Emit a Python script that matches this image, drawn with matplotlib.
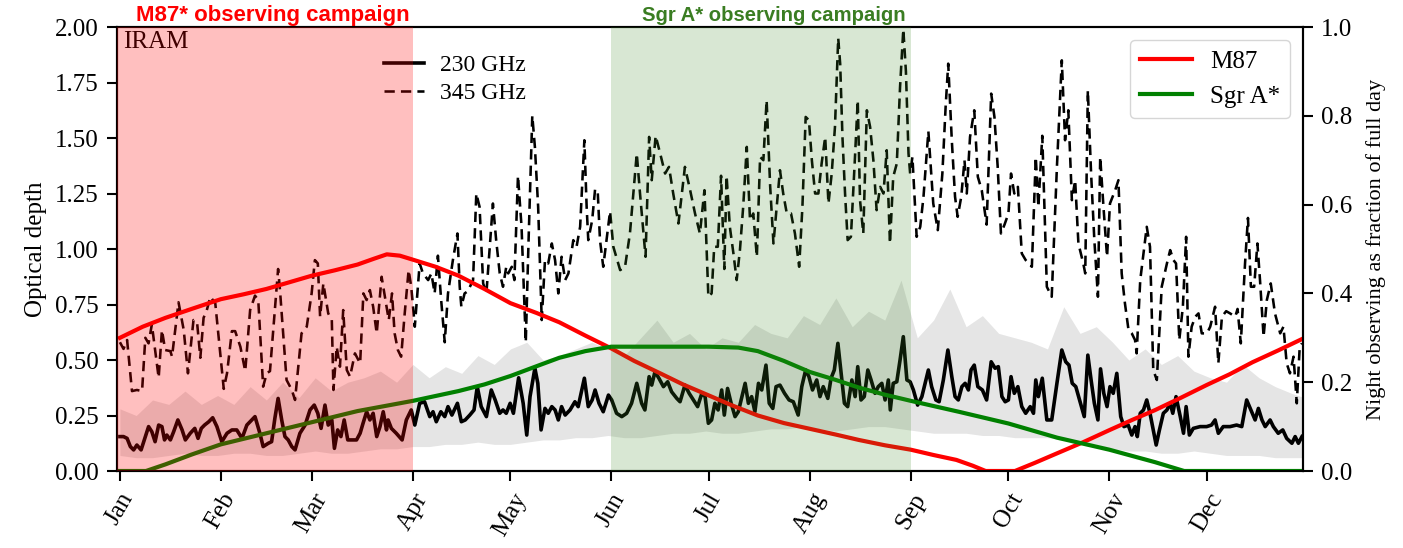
import matplotlib
matplotlib.use("Agg")
import matplotlib.pyplot as plt
from matplotlib.lines import Line2D

# ---------------- data (day of year, Jan 1 = 0) ----------------
month_days = [0, 31, 59, 90, 120, 151, 181, 212, 243, 273, 304, 334]
month_labels = ["Jan", "Feb", "Mar", "Apr", "May", "Jun", "Jul", "Aug", "Sep", "Oct", "Nov", "Dec"]

tau230_day = [0, 1.1, 2.2, 3.2, 4.2, 5.2, 6.5, 7.8, 8.8, 9.8, 10.8, 11.9, 12.9, 13.7, 14.4, 15.5, 16.5, 17.8, 19.1, 20.1,
              21.6, 23.0, 24.0, 25.0, 26.0, 27.3, 28.5, 29.8, 31.3, 32.9, 34.4, 35.9, 37.5, 39.0, 40.0, 41.5, 43.0, 44.0,
              45.6, 46.6, 47.6, 48.6, 49.7, 50.7, 51.7, 52.8, 53.8, 55.3, 56.9, 58.4, 59.7, 60.8, 61.8, 63.0, 64.0, 65.1,
              65.9, 66.9, 67.9, 68.9, 70.0, 71.2, 72.7, 73.8, 74.7, 75.8, 76.8, 77.8, 78.9, 79.9, 80.9, 81.9, 82.4, 83.4,
              84.9, 86.7, 88.0, 89.5, 90.6, 92.1, 93.6, 95.2, 96.2, 97.2, 98.6, 99.8, 100.8, 102.0, 103.7, 104.9, 106.1,
              107.5, 108.8, 109.8, 111.0, 112.6, 114.1, 115.3, 116.7, 117.7, 118.7, 119.9, 120.9, 122.5, 123.9, 125.0,
              126.0, 127.5, 128.4, 129.4, 130.6, 131.6, 132.7, 133.7, 134.7, 135.7, 136.8, 138.3, 139.8, 140.8, 142.7,
              143.9, 145.1, 146.0, 147.2, 148.5, 150.1, 151.1, 152.6, 154.2, 155.7, 157.2, 158.8, 160.3, 161.3, 162.6,
              163.4, 164.4, 165.6, 167.0, 168.3, 169.5, 171.1, 172.1, 173.6, 174.9, 176.2, 177.5, 178.8, 179.8, 180.8,
              181.8, 182.8, 183.8, 184.9, 185.7, 186.7, 187.8, 189.0, 190.0, 191.1, 192.1, 193.1, 194.1, 195.1, 196.2,
              197.2, 198.5, 199.5, 200.6, 201.6, 202.8, 204.2, 205.6, 206.9, 208.4, 209.5, 210.7, 211.7, 212.8, 214.1,
              215.1, 216.1, 217.5, 218.5, 219.5, 220.6, 221.6, 222.6, 223.6, 224.9, 225.9, 226.7, 227.7, 228.7, 229.8,
              230.8, 232.0, 233.0, 234.1, 235.1, 236.1, 236.7, 237.6, 238.7, 239.7, 240.7, 241.8, 242.8, 243.8, 245.1,
              246.4, 248.4, 249.4, 250.7, 251.7, 253.0, 254.4, 255.6, 256.6, 257.6, 258.7, 259.7, 260.7, 261.5, 262.5,
              263.6, 265.0, 266.3, 267.7, 268.9, 269.9, 271.0, 272.0, 273.0, 273.8, 274.8, 275.9, 277.1, 278.3, 279.7,
              280.7, 281.4, 282.2, 283.4, 284.8, 286.3, 287.9, 289.4, 290.6, 291.6, 292.6, 293.7, 295.0, 296.3, 297.4,
              298.4, 299.4, 300.5, 301.3, 302.3, 303.3, 304.2, 305.2, 306.3, 307.5, 308.5, 309.8, 310.9, 311.9, 312.6,
              313.5, 314.5, 315.5, 316.5, 317.5, 318.4, 319.4, 320.6, 321.7, 322.7, 323.5, 324.5, 325.8, 326.8, 327.6,
              328.6, 329.8, 331.9, 333.9, 335.4, 336.5, 337.5, 339.0, 341.1, 343.1, 344.7, 346.2, 347.5, 348.8, 349.8,
              350.9, 351.9, 353.4, 354.4, 355.9, 357.3, 358.5, 360.1, 361.1, 362.1, 363.2]
tau230 = [0.155, 0.155, 0.147, 0.11, 0.095, 0.117, 0.095, 0.155, 0.20, 0.177, 0.132, 0.207, 0.20, 0.14, 0.162, 0.14, 0.177,
          0.23, 0.185, 0.14, 0.17, 0.192, 0.147, 0.192, 0.207, 0.222, 0.24, 0.20, 0.132, 0.17, 0.185, 0.185, 0.147, 0.207,
          0.222, 0.245, 0.17, 0.11, 0.125, 0.132, 0.237, 0.327, 0.23, 0.155, 0.14, 0.11, 0.095, 0.17, 0.207, 0.275, 0.297,
          0.26, 0.192, 0.297, 0.207, 0.23, 0.102, 0.185, 0.155, 0.23, 0.14, 0.14, 0.14, 0.17, 0.215, 0.267, 0.23, 0.26,
          0.155, 0.20, 0.267, 0.185, 0.23, 0.192, 0.17, 0.14, 0.23, 0.275, 0.207, 0.305, 0.312, 0.245, 0.267, 0.222,
          0.267, 0.245, 0.29, 0.252, 0.305, 0.222, 0.23, 0.252, 0.275, 0.38, 0.29, 0.245, 0.365, 0.32, 0.26, 0.275, 0.26,
          0.305, 0.26, 0.42, 0.305, 0.162, 0.335, 0.463, 0.395, 0.185, 0.282, 0.26, 0.29, 0.275, 0.23, 0.29, 0.252, 0.275,
          0.312, 0.29, 0.418, 0.29, 0.32, 0.365, 0.305, 0.267, 0.342, 0.32, 0.26, 0.245, 0.26, 0.305, 0.395, 0.305, 0.275,
          0.425, 0.387, 0.447, 0.418, 0.38, 0.402, 0.357, 0.327, 0.312, 0.387, 0.35, 0.32, 0.29, 0.35, 0.335, 0.215, 0.23,
          0.305, 0.275, 0.365, 0.252, 0.372, 0.305, 0.245, 0.267, 0.335, 0.395, 0.305, 0.335, 0.267, 0.395, 0.365, 0.477,
          0.305, 0.282, 0.38, 0.387, 0.35, 0.32, 0.312, 0.252, 0.38, 0.455, 0.425, 0.365, 0.41, 0.335, 0.38, 0.327, 0.418,
          0.455, 0.575, 0.44, 0.305, 0.29, 0.41, 0.335, 0.47, 0.32, 0.335, 0.455, 0.41, 0.35, 0.38, 0.395, 0.32, 0.41,
          0.275, 0.395, 0.402, 0.50, 0.605, 0.41, 0.402, 0.365, 0.297, 0.335, 0.455, 0.38, 0.32, 0.312, 0.41, 0.545, 0.425,
          0.335, 0.32, 0.38, 0.395, 0.365, 0.455, 0.477, 0.38, 0.365, 0.32, 0.492, 0.463, 0.47, 0.335, 0.312, 0.32, 0.425,
          0.35, 0.38, 0.29, 0.26, 0.29, 0.26, 0.41, 0.335, 0.418, 0.23, 0.23, 0.395, 0.545, 0.492, 0.477, 0.395, 0.38,
          0.312, 0.245, 0.522, 0.41, 0.305, 0.23, 0.46, 0.35, 0.29, 0.38, 0.35, 0.44, 0.245, 0.20, 0.207, 0.162, 0.20,
          0.155, 0.26, 0.275, 0.32, 0.26, 0.185, 0.117, 0.185, 0.26, 0.275, 0.305, 0.26, 0.335, 0.245, 0.17, 0.29, 0.162,
          0.192, 0.20, 0.20, 0.207, 0.23, 0.17, 0.20, 0.20, 0.207, 0.20, 0.32, 0.275, 0.23, 0.282, 0.23, 0.20, 0.23, 0.20,
          0.17, 0.185, 0.147, 0.125, 0.155, 0.125, 0.155]

tau345_day = [0, 1.1, 2.2, 3.7, 5.2, 6.8, 7.8, 8.8, 9.8, 11.9, 12.9, 13.9, 15.5, 16.0, 18.0, 19.6, 20.9, 22.6, 23.7, 24.7,
              25.7, 26.7, 27.8, 29.3, 31.9, 32.9, 34.4, 35.4, 37.0, 38.5, 40.0, 41.5, 42.5, 44.0, 45.1, 46.1, 48.6, 49.2,
              51.2, 52.8, 53.8, 55.8, 57.4, 58.9, 59.9, 60.8, 61.5, 62.5, 63.0, 64.0, 65.1, 65.6, 66.6, 67.6, 68.6, 69.7,
              70.7, 72.2, 73.8, 74.8, 75.8, 76.8, 77.8, 78.9, 80.4, 81.9, 82.6, 83.6, 84.4, 85.4, 86.4, 87.5, 88.7, 89.5,
              90.6, 92.1, 93.1, 94.7, 95.7, 96.7, 97.7, 98.7, 99.8, 100.8, 102.3, 103.7, 104.4, 104.9, 105.9, 106.9,
              108.5, 109.5, 110.5, 111.6, 112.6, 114.6, 115.6, 116.7, 117.7, 118.7, 119.3, 120.4, 121.2, 122.3, 123.4,
              124.7, 125.5, 126.7, 127.5, 128.5, 129.6, 130.6, 131.6, 132.7, 133.7, 134.7, 135.7, 136.8, 137.8, 139.3,
              140.3, 141.4, 142.7, 143.4, 143.9, 145.1, 146.0, 146.8, 147.5, 148.5, 149.5, 150.6, 151.6, 153.7, 155.2,
              156.7, 158.8, 159.8, 161.5, 162.6, 163.4, 164.6, 166.0, 167.5, 168.7, 170.0, 171.6, 173.6, 175.2, 176.7,
              178.2, 179.6, 180.8, 181.8, 182.6, 183.7, 184.7, 185.7, 186.4, 187.4, 188.5, 189.5, 190.5, 191.5, 192.6,
              193.6, 194.6, 195.7, 196.7, 197.7, 198.7, 199.8, 200.8, 201.8, 202.8, 203.8, 204.9, 206.2, 207.4, 208.7,
              209.7, 210.7, 211.7, 212.6, 213.6, 214.6, 215.6, 216.7, 217.7, 218.7, 219.7, 220.7, 221.3, 222.0, 222.8,
              223.6, 224.6, 225.7, 226.7, 227.4, 228.4, 229.5, 230.5, 231.5, 232.5, 233.6, 234.6, 235.6, 236.6, 237.6,
              238.7, 239.7, 240.7, 241.5, 242.3, 242.8, 243.5, 244.8, 245.9, 246.9, 248.4, 249.9, 251.3, 252.7, 253.7,
              254.5, 255.6, 256.6, 257.4, 258.5, 259.5, 260.2, 261.2, 262.5, 263.6, 264.8, 266.3, 267.7, 268.7, 269.7,
              270.7, 271.8, 273.0, 273.8, 274.8, 275.9, 277.1, 278.3, 280.2, 281.4, 282.2, 283.4, 284.8, 286.3, 287.9,
              289.4, 290.4, 291.4, 292.5, 293.5, 294.5, 296.0, 296.6, 297.4, 298.4, 299.4, 300.5, 301.2, 302.2, 303.3,
              304.2, 305.8, 306.8, 307.8, 308.8, 309.9, 310.9, 311.9, 312.4, 313.5, 315.5, 316.5, 317.5, 318.6, 320.1,
              321.7, 322.7, 323.7, 324.5, 325.5, 326.6, 327.6, 328.3, 329.3, 330.4, 331.4, 332.4, 334.0, 335.0, 336.5,
              337.5, 338.6, 339.9, 341.1, 342.7, 343.4, 344.4, 345.7, 346.6, 347.5, 348.5, 349.5, 350.3, 351.4, 352.4,
              353.6, 354.9, 356.5, 357.5, 358.5, 359.5, 360.6, 361.6, 362.5, 363.2]
tau345 = [0.58, 0.55, 0.59, 0.36, 0.365, 0.36, 0.60, 0.575, 0.66, 0.42, 0.635, 0.545, 0.54, 0.515, 0.76, 0.635, 0.44, 0.68,
          0.67, 0.51, 0.69, 0.725, 0.785, 0.755, 0.37, 0.44, 0.63, 0.63, 0.56, 0.45, 0.725, 0.79, 0.77, 0.38, 0.44, 0.45,
          0.91, 0.81, 0.41, 0.365, 0.32, 0.62, 0.65, 0.80, 0.95, 0.935, 0.695, 0.845, 0.80, 0.71, 0.68, 0.365, 0.56, 0.47,
          0.725, 0.455, 0.425, 0.53, 0.485, 0.80, 0.77, 0.815, 0.74, 0.62, 0.875, 0.74, 0.68, 0.80, 0.62, 0.545, 0.515,
          0.71, 0.905, 0.83, 0.65, 0.935, 0.89, 0.86, 0.89, 0.80, 0.97, 0.77, 0.58, 0.80, 0.95, 1.07, 0.83, 0.74, 0.80,
          0.81, 0.86, 1.25, 1.19, 0.845, 0.80, 1.205, 1.04, 0.89, 0.83, 0.92, 0.89, 0.92, 0.86, 1.33, 1.10, 0.58, 1.01,
          1.60, 1.46, 1.19, 0.68, 0.95, 0.935, 1.025, 0.95, 0.80, 0.965, 0.86, 0.89, 1.04, 1.01, 1.10, 1.49, 1.19, 1.04,
          1.13, 1.27, 1.26, 1.04, 0.92, 1.04, 1.17, 1.01, 0.905, 0.92, 1.07, 1.43, 1.25, 0.965, 1.505, 1.31, 1.51, 1.43,
          1.34, 1.37, 1.25, 1.115, 1.37, 1.265, 1.16, 1.07, 1.265, 0.785, 0.80, 1.01, 1.01, 1.33, 0.91, 1.33, 1.10, 0.98,
          0.86, 0.995, 1.19, 1.46, 1.13, 1.16, 0.965, 1.415, 1.40, 1.67, 1.28, 1.025, 1.19, 1.355, 1.25, 1.16, 1.16, 1.07,
          0.92, 1.19, 1.595, 1.58, 1.40, 1.25, 1.25, 1.385, 1.505, 1.205, 1.34, 1.55, 1.95, 1.835, 1.505, 1.25, 1.04,
          1.055, 1.37, 1.67, 1.22, 1.07, 1.625, 1.55, 1.40, 1.175, 1.28, 1.25, 1.445, 1.025, 1.325, 1.385, 1.73, 1.99,
          1.80, 1.43, 1.34, 1.415, 1.055, 1.10, 1.235, 1.53, 1.205, 1.085, 1.34, 1.64, 1.835, 1.49, 1.235, 1.145, 1.235,
          1.40, 1.25, 1.505, 1.625, 1.325, 1.265, 1.11, 1.70, 1.595, 1.37, 1.07, 1.11, 1.16, 1.34, 1.25, 1.28, 0.98, 0.95,
          0.92, 1.415, 1.19, 1.51, 0.83, 0.785, 1.37, 1.85, 1.49, 1.625, 1.22, 1.31, 1.025, 0.935, 0.89, 1.715, 1.34, 1.04,
          0.785, 1.415, 1.19, 0.965, 1.205, 1.265, 1.31, 0.89, 0.755, 0.635, 0.62, 0.59, 0.53, 0.86, 1.10, 1.01, 0.455,
          0.41, 0.83, 0.935, 0.995, 0.95, 0.935, 0.59, 0.74, 1.055, 0.515, 0.65, 0.695, 0.71, 0.62, 0.62, 0.65, 0.74,
          0.485, 0.695, 0.72, 0.71, 0.695, 0.73, 0.575, 0.935, 1.14, 0.83, 0.83, 1.025, 0.86, 0.605, 0.77, 0.845, 0.71,
          0.62, 0.65, 0.485, 0.44, 0.515, 0.305, 0.56, 0.575]

band_day = [0, 5, 10, 15, 20, 25, 30, 35, 40, 45, 50, 55, 60, 65, 70, 75, 80, 85, 90, 95, 100, 105, 110, 115, 120, 125,
            130, 135, 140, 145, 150, 155, 160, 165, 170, 175, 180, 185, 190, 195, 200, 205, 210, 215, 220, 225, 230,
            235, 240, 245, 250, 255, 260, 265, 270, 275, 280, 285, 290, 295, 300, 305, 310, 315, 320, 325, 330, 335,
            340, 345, 350, 355, 360, 364]
band_hi = [0.28, 0.25, 0.32, 0.30, 0.36, 0.30, 0.34, 0.30, 0.38, 0.32, 0.40, 0.33, 0.42, 0.36, 0.40, 0.42, 0.45, 0.40,
           0.48, 0.42, 0.47, 0.44, 0.52, 0.48, 0.55, 0.58, 0.50, 0.52, 0.55, 0.58, 0.55, 0.52, 0.60, 0.68, 0.58, 0.62,
           0.55, 0.60, 0.58, 0.66, 0.62, 0.60, 0.70, 0.66, 0.78, 0.65, 0.72, 0.68, 0.86, 0.60, 0.68, 0.82, 0.65, 0.70,
           0.62, 0.60, 0.58, 0.55, 0.74, 0.62, 0.65, 0.58, 0.50, 0.55, 0.48, 0.52, 0.45, 0.42, 0.40, 0.48, 0.42, 0.38,
           0.35, 0.33]
band_lo = [0.07, 0.06, 0.06, 0.07, 0.08, 0.07, 0.07, 0.08, 0.08, 0.07, 0.07, 0.08, 0.09, 0.08, 0.08, 0.09, 0.10, 0.10,
           0.11, 0.11, 0.12, 0.12, 0.13, 0.12, 0.12, 0.13, 0.14, 0.14, 0.15, 0.15, 0.16, 0.15, 0.15, 0.16, 0.17, 0.17,
           0.18, 0.17, 0.17, 0.18, 0.19, 0.19, 0.20, 0.19, 0.18, 0.19, 0.20, 0.20, 0.19, 0.18, 0.17, 0.17, 0.17, 0.16,
           0.16, 0.15, 0.15, 0.15, 0.14, 0.13, 0.12, 0.10, 0.09, 0.09, 0.08, 0.08, 0.09, 0.08, 0.07, 0.07, 0.07, 0.06,
           0.06, 0.06]

m87_day = [0, 7, 14, 22, 31, 38, 45, 52, 59, 66, 73, 78, 82, 86, 90, 97, 104, 112, 120, 128, 135, 143, 151, 158, 166,
           173, 181, 188, 196, 204, 212, 220, 227, 235, 243, 250, 257, 262, 266, 275, 281, 288, 296, 304, 311, 318, 326,
           334, 341, 348, 356, 364]
m87_frac = [0.30, 0.325, 0.345, 0.365, 0.387, 0.398, 0.41, 0.425, 0.44, 0.452, 0.465, 0.478, 0.488, 0.485, 0.476, 0.46,
            0.44, 0.41, 0.378, 0.356, 0.335, 0.305, 0.276, 0.248, 0.22, 0.195, 0.17, 0.148, 0.125, 0.108, 0.095, 0.082,
            0.07, 0.058, 0.048, 0.036, 0.025, 0.012, 0.0, 0.0, 0.018, 0.04, 0.065, 0.092, 0.115, 0.137, 0.165, 0.194,
            0.218, 0.245, 0.272, 0.30]

sgra_day = [0, 8, 14, 22, 31, 45, 59, 73, 90, 104, 112, 120, 128, 135, 143, 151, 166, 181, 190, 196, 204, 212, 220, 227,
            235, 243, 258, 273, 288, 304, 311, 318, 327, 364]
sgra_frac = [0.0, 0.0, 0.015, 0.037, 0.06, 0.085, 0.11, 0.135, 0.158, 0.18, 0.195, 0.214, 0.236, 0.255, 0.27, 0.28,
             0.28, 0.28, 0.278, 0.27, 0.248, 0.223, 0.205, 0.188, 0.172, 0.158, 0.133, 0.107, 0.075, 0.048, 0.034,
             0.02, 0.0, 0.0]

m87_campaign = (-1.0, 90)
sgra_campaign = (151, 243)

# ---------------- figure ----------------
SERIF = ["Liberation Serif", "DejaVu Serif"]
plt.rcParams["font.family"] = SERIF
plt.rcParams["mathtext.fontset"] = "stix"

fig = plt.figure(figsize=(14.03, 5.48), dpi=100)
ax = fig.add_axes([0.0834, 0.1405, 0.8453, 0.8102])
ax2 = ax.twinx()

DASH = (0, (4, 2.4))
ax.fill_between(band_day, band_lo, band_hi, color="k", alpha=0.1, lw=0, zorder=1)
ax.plot(tau230_day, tau230, color="k", lw=2.6, ls="-", zorder=2)
ax.plot(tau345_day, tau345, color="k", lw=1.85, ls=DASH, zorder=2)
ax.text(0.005, 0.99, "IRAM", transform=ax.transAxes, ha="left", va="top", fontsize=18)

leg1 = ax.legend(handles=[Line2D([], [], color="k", lw=2.6, ls="-"),
                          Line2D([], [], color="k", lw=1.85, ls=DASH)],
                 labels=["230 GHz", "345 GHz"], loc="upper left", bbox_to_anchor=(0.207, 0.985),
                 frameon=False, fontsize=17, handlelength=1.7, handletextpad=0.7, labelspacing=0.25)

ax.set_xlim(-0.9, 363.5)
ax.set_ylim(0, 2.0)
ax.set_yticks([0, 0.25, 0.5, 0.75, 1.0, 1.25, 1.5, 1.75, 2.0])
ax.set_yticklabels(["%.2f" % v for v in [0, 0.25, 0.5, 0.75, 1.0, 1.25, 1.5, 1.75, 2.0]])
ax.set_xticks(month_days)
ax.set_xticklabels(month_labels, rotation=60, ha="center")
ax.set_ylabel("Optical depth", fontsize=18, labelpad=6)

l1, = ax2.plot(m87_day, m87_frac, color="red", lw=3, zorder=2)
l2, = ax2.plot(sgra_day, sgra_frac, color="green", lw=3, zorder=2)
ax2.axvspan(m87_campaign[0], m87_campaign[1], color="red", alpha=0.25, lw=0, zorder=3)
ax2.axvspan(sgra_campaign[0], sgra_campaign[1], color="#3e8a24", alpha=0.2, lw=0, zorder=3)
ax2.set_ylim(0, 1.0)
ax2.set_yticks([0, 0.2, 0.4, 0.6, 0.8, 1.0])
ax2.set_ylabel("Night observing as fraction of full day", fontsize=16, labelpad=10)
leg2 = ax2.legend([l1, l2], ["M87", "Sgr A*"], loc="upper right", bbox_to_anchor=(0.9995, 0.998),
                  fontsize=18, handlelength=2.1, handletextpad=0.7, framealpha=0.8)
leg2.set_zorder(10)
ax.set_xlim(-0.9, 363.5)

for a in (ax, ax2):
    a.tick_params(axis="both", labelsize=18, length=7, width=1.5, pad=6)
    for s in a.spines.values():
        s.set_linewidth(1.5)

ax.text(47, 2.025, "M87* observing campaign", ha="center", va="baseline", fontsize=16,
        fontweight="bold", color="red", family=["Liberation Sans", "DejaVu Sans"], clip_on=False)
ax.text(201, 2.025, "Sgr A* observing campaign", ha="center", va="baseline", fontsize=14.6,
        fontweight="bold", color="#3a7d22", family=["Liberation Sans", "DejaVu Sans"], clip_on=False)

fig.savefig("out.png", dpi=100)
